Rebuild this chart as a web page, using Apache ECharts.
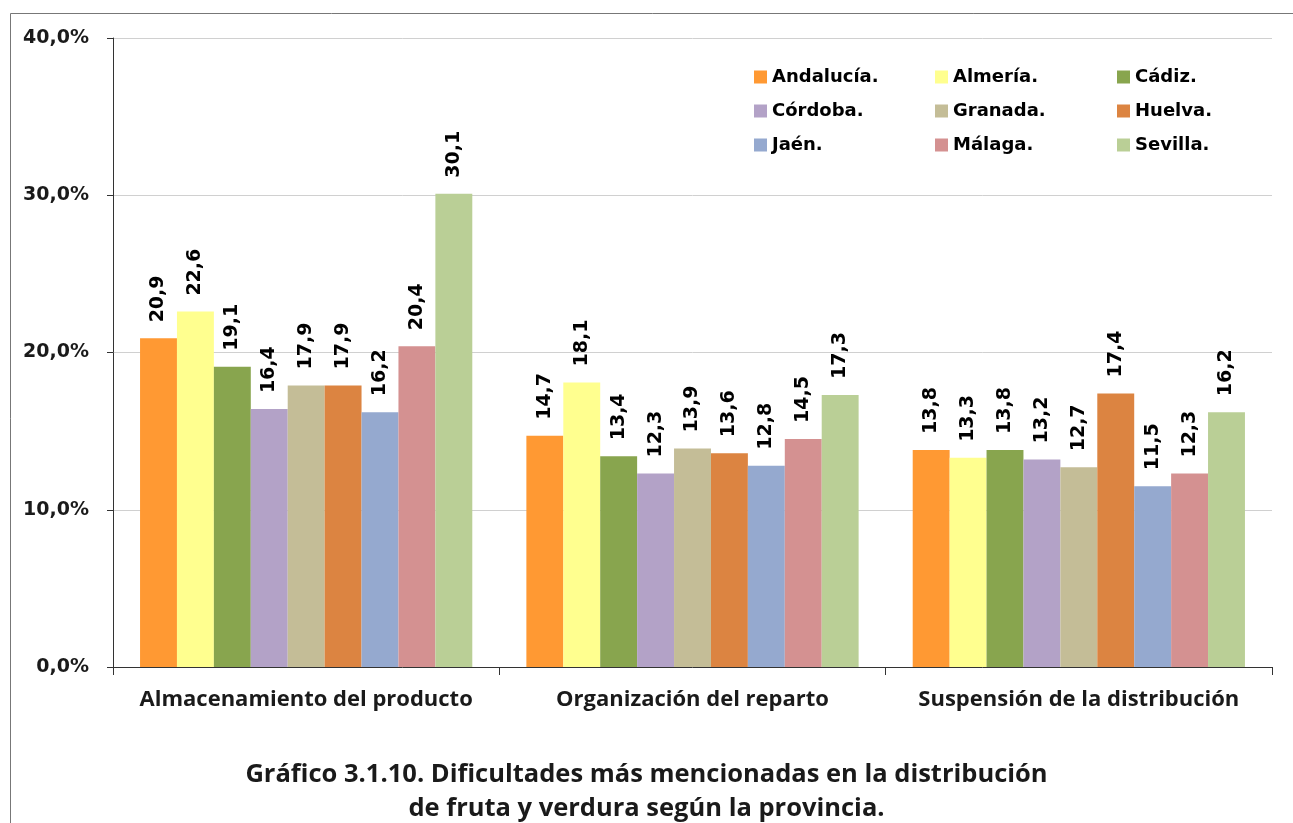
<!DOCTYPE html>
<html>
<head>
<meta charset="utf-8">
<script src="https://cdn.jsdelivr.net/npm/echarts@6/dist/echarts.min.js"></script>
<style>
  html, body { margin: 0; padding: 0; background: #fff; }
  #chart { width: 1293px; height: 823px; }
</style>
</head>
<body>
<div id="chart"></div>
<script>
// datos
let categorias = ['Almacenamiento del producto', 'Organización del reparto', 'Suspensión de la distribución']
let provincias = ['Andalucía.', 'Almería.', 'Cádiz.', 'Córdoba.', 'Granada.', 'Huelva.', 'Jaén.', 'Málaga.', 'Sevilla.']
let andalucia = [20.9, 14.7, 13.8]
let almeria = [22.6, 18.1, 13.3]
let cadiz = [19.1, 13.4, 13.8]
let cordoba = [16.4, 12.3, 13.2]
let granada = [17.9, 13.9, 12.7]
let huelva = [17.9, 13.6, 17.4]
let jaen = [16.2, 12.8, 11.5]
let malaga = [20.4, 14.5, 12.3]
let sevilla = [30.1, 17.3, 16.2]
let yTicks = [0, 10, 20, 30, 40]

let valores = [andalucia, almeria, cadiz, cordoba, granada, huelva, jaen, malaga, sevilla]

//colores
let colors = ['#FF9933', '#FFFF8F', '#88A54E', '#B3A2C7', '#C4BD97', '#DC8441', '#95A9CF', '#D49191', '#BACF96']

let myChart = echarts.init(document.getElementById('chart'))

let legendStyle = {
    orient: 'vertical',
    top: 66,
    padding: 0,
    itemWidth: 13,
    itemHeight: 13,
    itemGap: 12,
    icon: 'rect',
    textStyle: { fontFamily: 'DejaVu Sans', fontWeight: 'bold', fontSize: 18, lineHeight: 22, color: '#000' }
}

let option = {
    animation: false,
    color: colors,
    graphic: [
        {
            type: 'rect',
            shape: { x: 10.5, y: 13.5, width: 1300, height: 830 },
            style: { fill: 'none', stroke: '#777', lineWidth: 1 },
            silent: true
        },
        {
            type: 'text',
            left: 'center',
            top: 758,
            style: {
                text: 'Gráfico 3.1.10. Dificultades más mencionadas en la distribución\nde fruta y verdura según la provincia.',
                textAlign: 'center',
                fontFamily: 'Open Sans',
                fontWeight: 'bold',
                fontSize: 25.5,
                lineHeight: 34,
                fill: '#1a1a1a'
            }
        }
    ],
    legend: [
        Object.assign({ left: 754, data: [provincias[0], provincias[3], provincias[6]] }, legendStyle),
        Object.assign({ left: 935, data: [provincias[1], provincias[4], provincias[7]] }, legendStyle),
        Object.assign({ left: 1117, data: [provincias[2], provincias[5], provincias[8]] }, legendStyle)
    ],
    grid: {
        left: 113,
        right: 21,
        top: 38,
        bottom: 156
    },
    xAxis: {
        type: 'category',
        data: categorias,
        axisLine: { lineStyle: { color: '#333', width: 1 } },
        axisTick: { show: true, interval: 0, length: 8, lineStyle: { color: '#333' } },
        axisLabel: {
            interval: 0,
            hideOverlap: false,
            margin: 22,
            fontFamily: 'Open Sans',
            fontWeight: 'bold',
            fontSize: 22,
            color: '#1a1a1a'
        }
    },
    yAxis: {
        type: 'value',
        min: yTicks[0],
        max: yTicks[yTicks.length - 1],
        interval: 10,
        axisLine: { show: true, lineStyle: { color: '#333', width: 1 } },
        axisTick: { show: true, length: 6, lineStyle: { color: '#333' } },
        splitLine: { lineStyle: { color: '#d0d0d0', width: 1 } },
        axisLabel: {
            margin: 24,
            fontFamily: 'DejaVu Sans',
            fontWeight: 'bold',
            fontSize: 19,
            color: '#1a1a1a',
            formatter: function (v) { return v.toFixed(1).replace('.', ',') + '%' }
        }
    },
    series: provincias.map(function (p, i) {
        return {
            name: p,
            type: 'bar',
            data: valores[i],
            barGap: '0%',
            barCategoryGap: '14%',
            itemStyle: { color: colors[i] },
            label: {
                show: true,
                position: 'top',
                rotate: 90,
                align: 'left',
                verticalAlign: 'middle',
                distance: 16,
                fontFamily: 'DejaVu Sans',
                fontWeight: 'bold',
                fontSize: 19,
                color: '#000',
                formatter: function (d) { return d.value.toFixed(1).replace('.', ',') }
            }
        }
    })
}
myChart.setOption(option)
window.addEventListener('resize', function () {
    myChart.resize()
})
</script>
</body>
</html>
